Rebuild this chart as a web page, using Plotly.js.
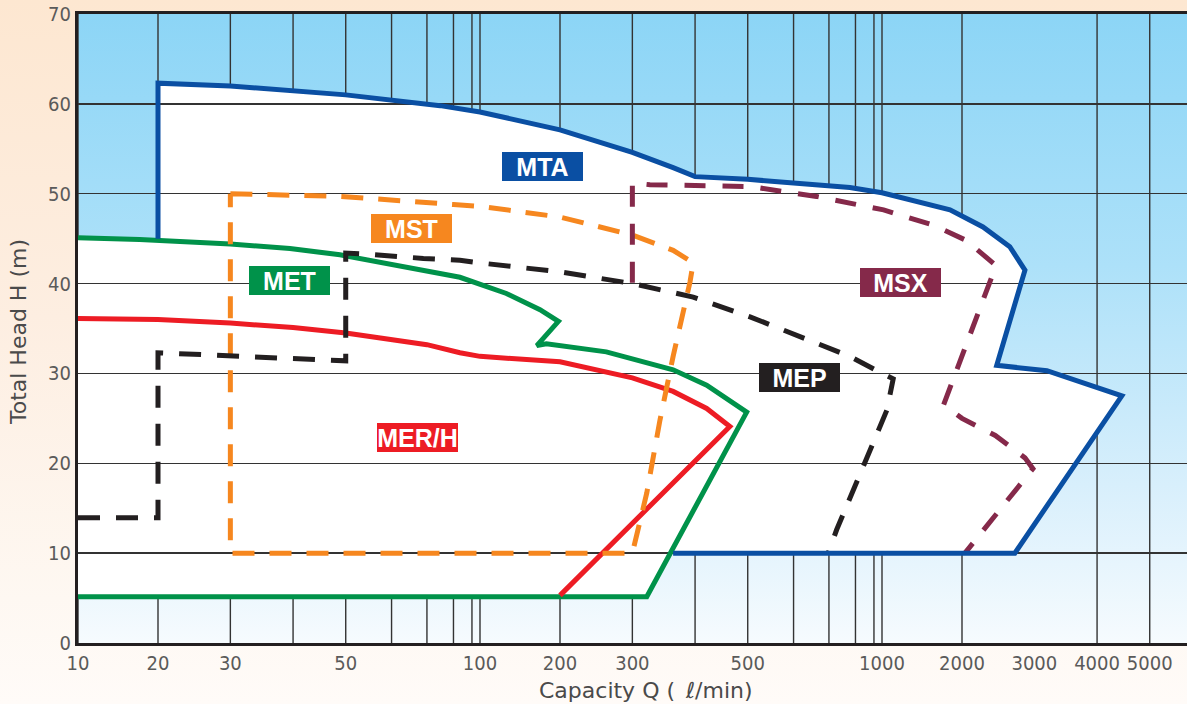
<!DOCTYPE html>
<html>
<head>
<meta charset="utf-8">
<script src="https://cdn.plot.ly/plotly-3.0.1.min.js"></script>
<style>
  html, body { margin: 0; padding: 0; }
  #wrap { position: relative; width: 1187px; height: 704px; overflow: hidden;
    background: linear-gradient(180deg, #fde7d1 0%, #fdeee1 45%, #fef8f2 85%, #fffbf8 100%); }
  #plotbg { position: absolute; left: 78px; top: 14px; width: 1109px; height: 629px;
    background: linear-gradient(180deg, #8cd5f6 0%, #ade1f9 40%, #d8effc 75%, #f6fbfe 100%); }
  #chart { position: absolute; left: 0; top: 0; width: 1187px; height: 704px; }
</style>
</head>
<body>
<div id="wrap"><div id="plotbg"></div><div id="chart"></div></div>
<script>
// ---------------- data (Capacity Q in l/min, Total head H in m) ----------------
const MTA_Q = [20, 20, 30, 50, 75, 100, 200, 300, 365, 400, 500, 779, 1000, 1850, 2290, 2660, 2870, 2480, 3200, 4000, 4470, 2730, 365];
const MTA_H = [45.0, 62.3, 62.0, 61.0, 59.8, 59.1, 57.1, 54.6, 52.9, 51.9, 51.6, 50.7, 50.1, 48.2, 46.3, 44.1, 41.5, 30.9, 30.3, 28.5, 27.5, 10.0, 10.0];

const MST_Q = [30, 49, 80, 100, 200, 300, 365, 397, 392, 365, 344, 323, 300, 30, 30];
const MST_H = [50.0, 49.7, 48.8, 48.6, 47.4, 45.4, 43.7, 42.3, 40.2, 31.9, 24.8, 16.7, 10.0, 10.0, 50.0];

const MET_Q = [10, 17.7, 30, 39.5, 48.9, 64.3, 83.5, 133, 175, 198, 171, 183, 264, 365, 422, 498, 323, 10];
const MET_H = [45.1, 44.9, 44.4, 43.9, 43.2, 41.8, 40.7, 38.9, 37.1, 35.8, 33.1, 33.3, 32.4, 30.4, 28.7, 25.7, 5.15, 5.15];

const MER_Q = [10, 20, 30, 40, 50, 60, 70, 83.5, 100, 200, 300, 365, 422, 466, 200];
const MER_H = [36.1, 36.0, 35.6, 35.1, 34.5, 33.8, 33.2, 32.3, 31.9, 31.3, 29.5, 28.0, 26.1, 24.1, 5.3];

const MEP_Q = [10, 20, 20, 50, 50, 53.8, 69, 83.5, 100, 200, 300, 397, 505, 618, 779, 1000, 1140, 1060, 878, 792, 729, 698];
const MEP_H = [13.95, 13.95, 32.3, 31.4, 43.4, 43.3, 42.8, 42.6, 42.3, 41.3, 40.0, 38.5, 36.3, 34.1, 31.9, 30.0, 29.4, 25.9, 21.5, 17.0, 12.6, 10.0];

const MSX_Q = [300, 300, 328, 505, 665, 1020, 1640, 2060, 2470, 1770, 2000, 2460, 2870, 2980, 2040];
const MSX_H = [40.1, 51.2, 51.0, 50.8, 49.7, 48.2, 46.5, 44.8, 42.0, 26.5, 25.0, 23.1, 20.6, 19.4, 10.0];

const SERIES_NAMES = ['MET', 'MER/H', 'MST', 'MEP', 'MSX', 'MTA'];

// axis ticks
const GRID_Q = [10, 20, 30, 40, 50, 60, 70, 80, 90, 100, 200, 300, 400, 500, 600, 700, 800, 900, 1000, 2000, 4000, 5000];
const LABEL_Q = [10, 20, 30, 50, 100, 200, 300, 500, 1000, 2000, 3000, 4000, 5000];
const LABEL_TEXT = ['10', '20', '30', '50', '100', '200', '300', '500', '1000', '2000', '3000', '4000', '5000'];
const Y_TICKS = [0, 10, 20, 30, 40, 50, 60, 70];

// ---------------- the chart's own (non-standard) capacity scale ----------------
// position of multipliers 1..10 within one decade, as drawn on the original chart
const DECADE_FRAC = [0, 0.199, 0.379, 0.535, 0.666, 0.78, 0.868, 0.934, 0.98, 1];
function qScale(q) {
  let e = Math.floor(Math.log10(q) + 1e-9);
  let m = q / Math.pow(10, e);
  if (m >= 10) { e += 1; m /= 10; }
  const k = Math.min(Math.floor(m), 9);
  const t = m - k;
  const f = DECADE_FRAC[k - 1] + t * (DECADE_FRAC[k] - DECADE_FRAC[k - 1]);
  return e + f;
}

const COLORS = { MTA: '#0a4fa3', MST: '#f6871f', MET: '#00924a', MER: '#ed1c24', MEP: '#231f20', MSX: '#85294a' };
const LW = 5;

function line(qs, hs, color, dash, name) {
  return { type: 'scatter', mode: 'lines', name: name, x: qs.map(qScale), y: hs,
    line: { color: color, width: LW, dash: dash || 'solid' }, hoverinfo: 'skip' };
}

const traces = [
  line(MET_Q, MET_H, COLORS.MET, null, SERIES_NAMES[0]),
  line(MER_Q, MER_H, COLORS.MER, null, SERIES_NAMES[1]),
  line(MST_Q, MST_H, COLORS.MST, '22px,15px', SERIES_NAMES[2]),
  line(MEP_Q, MEP_H, COLORS.MEP, '22px,16px', SERIES_NAMES[3]),
  line(MSX_Q, MSX_H, COLORS.MSX, '21px,17px', SERIES_NAMES[4]),
  line(MTA_Q, MTA_H, COLORS.MTA, null, SERIES_NAMES[5])
];

function pathFrom(qs, hs) {
  return qs.map((q, i) => (i ? 'L' : 'M') + qScale(q) + ',' + hs[i]).join(' ') + ' Z';
}

const shapes = [];
// white working areas (union of MTA and MET envelopes)
shapes.push({ type: 'path', xref: 'x', yref: 'y', layer: 'below', fillcolor: '#ffffff',
  line: { width: 0 }, path: pathFrom(MET_Q.concat([10]), MET_H.concat([45.1])) });
shapes.push({ type: 'path', xref: 'x', yref: 'y', layer: 'below', fillcolor: '#ffffff',
  line: { width: 0 }, path: pathFrom(MTA_Q.concat([20]), MTA_H.concat([10])) });
// vertical grid lines
GRID_Q.forEach(q => shapes.push({ type: 'line', xref: 'x', yref: 'paper', layer: 'below',
  x0: qScale(q), x1: qScale(q), y0: 0, y1: 1, line: { color: '#333333', width: 1.4 } }));

const tickFont = { family: '"Liberation Sans Narrow", "DejaVu Sans Condensed", "Liberation Sans", sans-serif', size: 20, color: '#5a5a5a' };
const titleFont = { family: '"DejaVu Sans", "Liberation Sans", sans-serif', size: 22, color: '#4a4a4a' };
const boxFont = { family: '"Liberation Sans Narrow", "Liberation Sans", sans-serif', size: 25, color: '#ffffff', weight: 700 };

function box(text, x, y, color) {
  return { xref: 'paper', yref: 'paper', x: x, y: y, xanchor: 'center', yanchor: 'middle',
    text: '<b>' + text + '</b>', showarrow: false, bgcolor: color, width: 81, height: 29,
    borderpad: 0, borderwidth: 0, font: boxFont, align: 'center', valign: 'middle' };
}

const annotations = [
  box('MTA', 0.4188, 0.7583, COLORS.MTA),
  box('MST', 0.3006, 0.6587, COLORS.MST),
  box('MET', 0.1910, 0.5763, COLORS.MET),
  box('MER/H', 0.3058, 0.3267, COLORS.MER),
  box('MEP', 0.6503, 0.4226, COLORS.MEP),
  box('MSX', 0.7415, 0.5739, COLORS.MSX),
  { xref: 'paper', yref: 'paper', x: 0.5122, y: -0.0763, xanchor: 'center', yanchor: 'middle',
    text: 'Capacity Q (\u2002ℓ/min)', showarrow: false, font: titleFont },
  { xref: 'paper', yref: 'paper', x: -0.0541, y: 0.4944, xanchor: 'center', yanchor: 'middle',
    text: 'Total Head H (m)', textangle: -90, showarrow: false, font: titleFont }
];

const layout = {
  width: 1187, height: 704,
  margin: { l: 78, r: 0, t: 14, b: 61, pad: 0 },
  paper_bgcolor: 'rgba(0,0,0,0)', plot_bgcolor: 'rgba(0,0,0,0)',
  showlegend: false, hovermode: false,
  xaxis: { type: 'linear', range: [1, 1 + 1109 / 402], tickmode: 'array',
    tickvals: LABEL_Q.map(qScale), ticktext: LABEL_TEXT, showgrid: false, zeroline: false,
    showline: true, linecolor: '#231f20', linewidth: 3, mirror: true, ticks: '',
    tickfont: tickFont, fixedrange: true },
  yaxis: { range: [0, 70], tickmode: 'array', tickvals: Y_TICKS, ticktext: Y_TICKS.map(String),
    showgrid: true, gridcolor: '#333333', gridwidth: 1.4, zeroline: false,
    showline: true, linecolor: '#231f20', linewidth: 3, ticks: '', tickfont: tickFont, fixedrange: true },
  shapes: shapes,
  annotations: annotations
};

Plotly.newPlot('chart', traces, layout, { staticPlot: true, displayModeBar: false });
</script>
</body>
</html>
